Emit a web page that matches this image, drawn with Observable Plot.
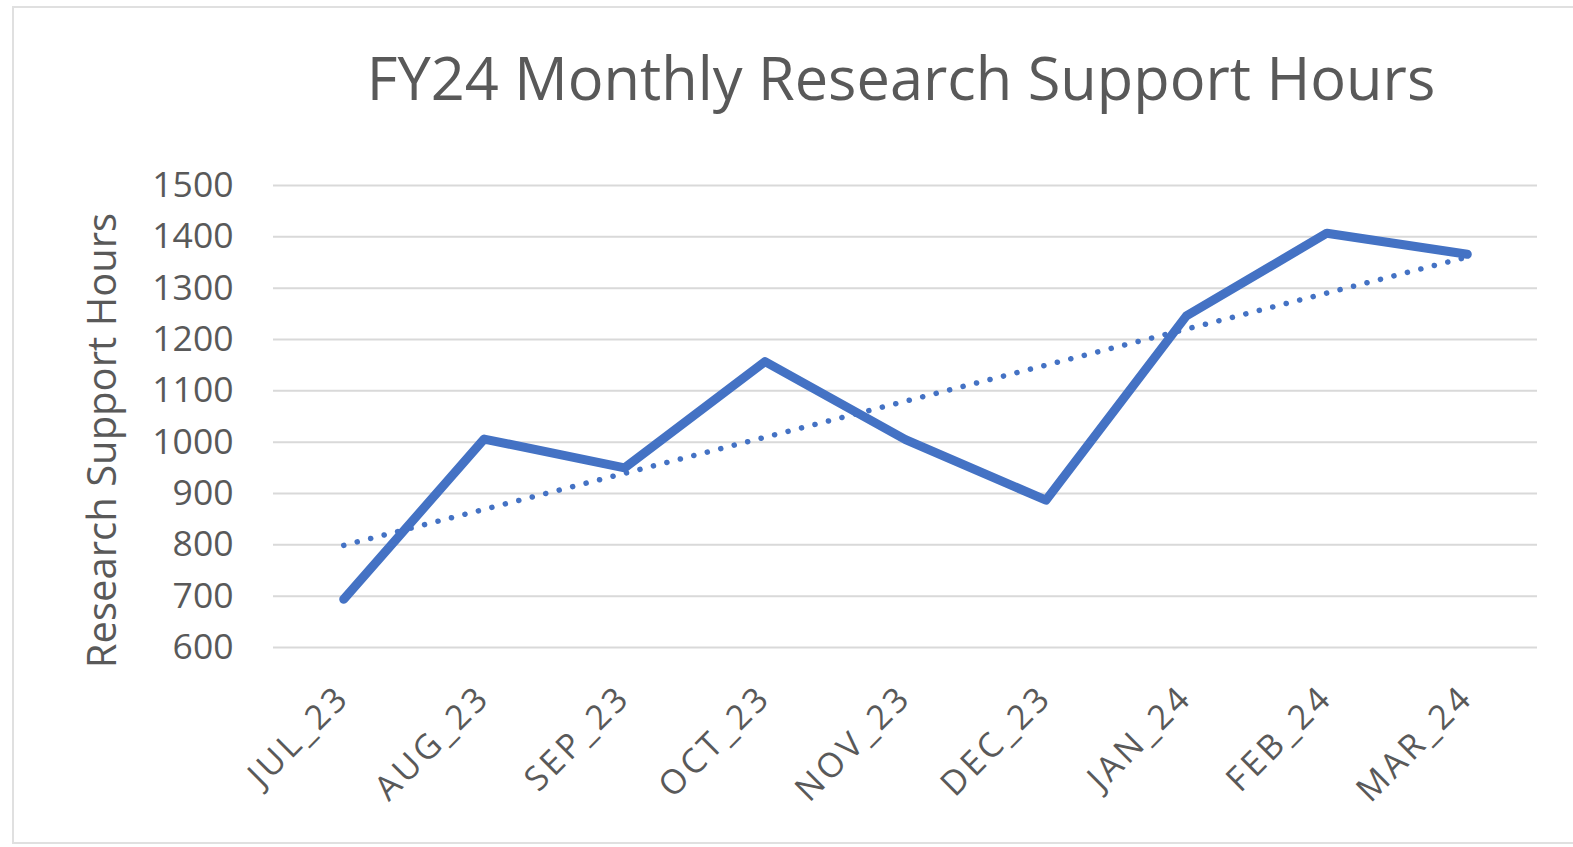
<!DOCTYPE html>
<html>
<head>
<meta charset="utf-8">
<script src="https://cdn.jsdelivr.net/npm/d3@7"></script>
<script src="https://cdn.jsdelivr.net/npm/@observablehq/plot@0.6"></script>
<style>
  html, body { margin: 0; padding: 0; background: #ffffff; width: 1573px; height: 847px; overflow: hidden; }
  #frame { position: absolute; left: 12px; top: 6px; width: 1600px; height: 838px; border: 2px solid #e0e0e0; box-sizing: border-box; }
  #title { position: absolute; left: 301px; width: 1200px; top: 37px; line-height: 80px; text-align: center;
           font-family: "Open Sans", sans-serif; font-size: 59.5px; color: #595959; white-space: nowrap; }
  #chart { position: absolute; left: 0; top: 140px; }
  #chart g[aria-label="x-axis tick label"] text { letter-spacing: 3.5px; }
</style>
</head>
<body>
<div id="frame"></div>
<div id="title">FY24 Monthly Research Support Hours</div>
<div id="chart"></div>
<script>
const months = ["JUL_23", "AUG_23", "SEP_23", "OCT_23", "NOV_23", "DEC_23", "JAN_24", "FEB_24", "MAR_24"];
const hours = [694, 1006, 950, 1157, 1005, 887, 1246, 1407, 1366];
const yTicks = [600, 700, 800, 900, 1000, 1100, 1200, 1300, 1400, 1500];
const yLabel = "Research Support Hours";

const data = months.map((m, i) => ({i, month: m, hours: hours[i]}));

const chart = Plot.plot({
  width: 1573,
  height: 700,
  marginTop: 45,
  marginBottom: 193,
  marginLeft: 273,
  marginRight: 36,
  style: {fontFamily: "Open Sans, sans-serif", color: "#595959", background: "transparent", overflow: "visible"},
  x: {domain: [-0.5, months.length - 0.5]},
  y: {domain: [600, 1500]},
  marks: [
    Plot.gridY(yTicks, {stroke: "#d9d9d9", strokeWidth: 2, strokeOpacity: 1}),
    Plot.axisY(yTicks, {tickSize: 0, tickPadding: 40, fontSize: 35.5, label: null, fill: "#595959", tickFormat: d => String(d)}),
    Plot.axisX(d3.range(months.length), {tickSize: 0, tickRotate: -45, tickPadding: 44, tickFormat: i => months[i], fontSize: 34, label: null, fill: "#595959"}),
    Plot.line(data, {x: "i", y: "hours", stroke: "#4472C4", strokeWidth: 9, strokeLinecap: "round", strokeLinejoin: "round"}),
    Plot.linearRegressionY(data, {x: "i", y: "hours", ci: 0, stroke: "#4472C4", strokeWidth: 5.5, strokeDasharray: "0.1,13.8", strokeLinecap: "round"}),
    Plot.text([yLabel], {frameAnchor: "left", textAnchor: "middle", rotate: -90, dx: -170, dy: 24, fontSize: 40, fill: "#595959"})
  ]
});
document.getElementById("chart").appendChild(chart);
</script>
</body>
</html>
